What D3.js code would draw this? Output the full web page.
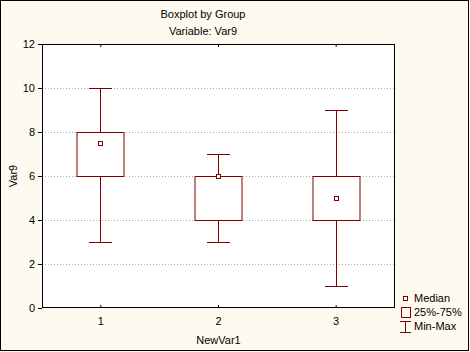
<!DOCTYPE html>
<html><head><meta charset="utf-8">
<script src="https://cdn.jsdelivr.net/npm/d3@7"></script>
<style>body{margin:0;background:#fffaf0}svg{display:block}text{font-family:"Liberation Sans",Arial,sans-serif;font-size:11px;fill:#000}</style>
</head><body><svg id="c" width="470" height="352"></svg>
<script>
const categories = ["1","2","3"];
const mins    = [3, 3, 1];
const q1s     = [6, 4, 4];
const medians = [7.5, 6, 5];
const q3s     = [8, 6, 6];
const maxs    = [10, 7, 9];
const yTicks  = [0, 2, 4, 6, 8, 10, 12];
const title = "Boxplot by Group", subtitle = "Variable: Var9";
const xLabel = "NewVar1", yLabel = "Var9";
const legendItems = ["Median", "25%-75%", "Min-Max"];

const W = 470, H = 352, color = "#800000";
const m = {l: 42, r: 395, t: 44, b: 308};
const svg = d3.select("#c");
svg.append("rect").attr("x",0.5).attr("y",0.5).attr("width",W-2).attr("height",H-2)
  .attr("fill","#fffaf0").attr("stroke","#000");
const x = d3.scaleBand().domain(categories).range([m.l, m.r]);
const y = d3.scaleLinear().domain([0, 12]).range([m.b, m.t]);
const px = v => Math.round(v) + 0.5;

svg.append("rect").attr("x",m.l).attr("y",m.t).attr("width",m.r-m.l).attr("height",m.b-m.t).attr("fill","#fff");
// grid
svg.append("g").selectAll("line").data(yTicks.filter(v=>v>0&&v<12)).join("line")
  .attr("x1",m.l).attr("x2",m.r).attr("y1",d=>px(y(d))).attr("y2",d=>px(y(d)))
  .attr("stroke","#aaa").attr("stroke-dasharray","1,2");
// axes
svg.append("g").attr("transform",`translate(${m.l},0)`)
  .call(d3.axisLeft(y).tickValues(yTicks).tickSize(4).tickPadding(3));
svg.append("g").attr("transform",`translate(0,${m.b})`)
  .call(d3.axisBottom(x).tickSize(-3).tickPadding(9));
svg.append("g").attr("transform",`translate(0,${m.t})`)
  .call(d3.axisTop(x).tickSize(-3).tickFormat(""));
svg.selectAll(".domain").remove();
svg.selectAll(".tick line").attr("stroke","#000");
svg.selectAll(".tick text").style("font-size","11px").attr("fill","#000");
svg.append("rect").attr("x",m.l+0.5).attr("y",m.t+0.5).attr("width",m.r-m.l-1).attr("height",m.b-m.t-1)
  .attr("fill","none").attr("stroke","#000").attr("stroke-width",1);

// boxes
const bw = 47, cw = 23;
const g = svg.append("g").attr("stroke",color).attr("stroke-width",1);
categories.forEach((c,i)=>{
  const cx = px(x(c) + x.bandwidth()/2 - 0.5);
  g.append("line").attr("x1",cx).attr("x2",cx).attr("y1",px(y(maxs[i]))).attr("y2",px(y(mins[i])));
  g.append("line").attr("x1",cx-cw/2).attr("x2",cx+cw/2).attr("y1",px(y(maxs[i]))).attr("y2",px(y(maxs[i])));
  g.append("line").attr("x1",cx-cw/2).attr("x2",cx+cw/2).attr("y1",px(y(mins[i]))).attr("y2",px(y(mins[i])));
  g.append("rect").attr("x",cx-23.5).attr("y",px(y(q3s[i]))).attr("width",bw).attr("height",Math.round(y(q1s[i])-y(q3s[i]))).attr("fill","#fff");
  g.append("rect").attr("x",cx-2).attr("y",px(y(medians[i]))-2).attr("width",4).attr("height",4).attr("fill","#fff");
});

// titles
svg.append("text").attr("x",203).attr("y",18).attr("text-anchor","middle").text(title);
svg.append("text").attr("x",203).attr("y",35).attr("text-anchor","middle").text(subtitle);
svg.append("text").attr("x",(m.l+m.r)/2).attr("y",344).attr("text-anchor","middle").text(xLabel);
svg.append("text").attr("transform",`translate(17,${(m.t+m.b)/2}) rotate(-90)`).attr("text-anchor","middle").text(yLabel);

// legend
const lg = svg.append("g").attr("stroke",color).attr("stroke-width",1);
lg.append("rect").attr("x",403.5).attr("y",296.5).attr("width",4).attr("height",4).attr("fill","#fff");
lg.append("rect").attr("x",401.5).attr("y",307.5).attr("width",9).attr("height",10).attr("fill","none");
lg.append("line").attr("x1",405.5).attr("x2",405.5).attr("y1",322).attr("y2",332);
lg.append("line").attr("x1",400).attr("x2",411).attr("y1",321.5).attr("y2",321.5);
lg.append("line").attr("x1",400).attr("x2",411).attr("y1",332.5).attr("y2",332.5);
legendItems.forEach((t,i)=>svg.append("text").attr("x",414).attr("y",302+i*14).text(t));
</script></body></html>
